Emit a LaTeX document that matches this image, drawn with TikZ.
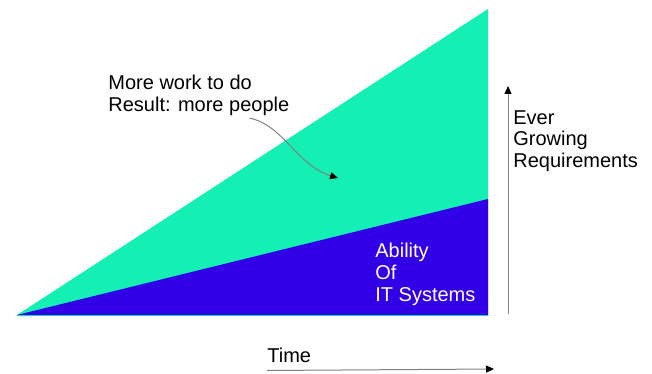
\documentclass[tikz,border=0pt]{standalone}
\usepackage{fontspec}
\setmainfont{Liberation Sans}
\usetikzlibrary{arrows.meta}
\definecolor{workgreen}{RGB}{20,240,180}
\definecolor{itblue}{RGB}{50,0,230}

\begin{document}
\begin{tikzpicture}[x=0.5pt,y=-0.5pt,
		txt/.style={inner sep=0pt,align=left,font=\fontsize{10}{10.9}\selectfont},
		guide/.style={gray,line width=0.5pt,-{Triangle[length=4pt,width=3.5pt,black]}}]
		\useasboundingbox (0,0) rectangle (652,374);
		\coordinate (apex) at (17,315);
		\coordinate (base) at (488,316);
		\coordinate (top) at (488,9);
		\coordinate (ability) at (488,199);
		\fill[workgreen] (apex) -- (top) -- (base) -- (17,316) -- cycle;
		\fill[itblue] (apex) -- (ability) -- (488,315) -- cycle;
		\node[txt,anchor=north west] (work) at (108,75) {More work to do\\Result: more people};
		\coordinate (into) at (338,178);
		\draw[guide] ([xshift=-20pt,yshift=-1pt]work.south east) .. controls (282,124) and (298,166) .. (into);
		\node[txt,anchor=north west,white] (itsys) at (375,243) {Ability\\Of\\IT Systems};
		\coordinate (req0) at (508,314);
		\coordinate (req1) at (508,86);
		\draw[guide] (req0) -- (req1);
		\node[txt,anchor=north west] (grow) at (513,110) {Ever\\Growing\\Requirements};
		\node[txt,anchor=north west] (time) at (267,348) {Time};
		\coordinate (tend) at (494,369);
		\draw[guide] ([yshift=-3.5pt]time.south west) -- (tend);
	\end{tikzpicture}
\end{document}
